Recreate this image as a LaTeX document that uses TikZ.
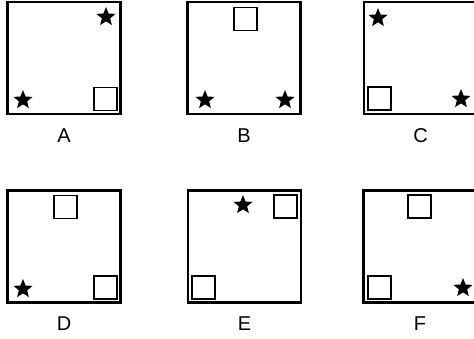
\documentclass[tikz,border=0pt]{standalone}
\usepackage{fontspec}
\setmainfont{Liberation Sans}
\usetikzlibrary{shapes.geometric, positioning}

\begin{document}
\begin{tikzpicture}[
    x=1pt, y=-1pt,
    panel/.style={rectangle, draw=black, line width=2.8pt, minimum width=113pt, minimum height=112pt, inner sep=0pt},
    starmark/.style={star, star points=5, star point ratio=2.3, fill=black, draw=none, minimum size=20pt, inner sep=0pt},
    sqmark/.style={rectangle, draw=black, line width=1.9pt, minimum size=23pt, inner sep=0pt},
    caption/.style={font=\fontsize{20}{22}\selectfont, inner sep=0pt}
]
\useasboundingbox (0,0) rectangle (474,338);

% Row 1: panels A, B, C
\node (boxA) [panel] at (64,58) {};
\node (boxB) [panel] at (244,58) {};
\node (boxC) [panel] at (420.5,58) {};

% Row 2: panels D, E, F
\node (boxD) [panel] at (64,246.5) {};
\node (boxE) [panel] at (244.5,246.5) {};
\node (boxF) [panel] at (420,246.5) {};

% Captions
\node (labA) [caption, below=13pt of boxA] {A};
\node (labB) [caption, below=13pt of boxB] {B};
\node (labC) [caption, below=13pt of boxC] {C};
\node (labD) [caption, below=13pt of boxD] {D};
\node (labE) [caption, below=13pt of boxE] {E};
\node (labF) [caption, below=13pt of boxF] {F};

% Panel A
\node (starA1) [starmark] at (106,17) {};
\node (starA2) [starmark] at (23,100) {};
\node (sqA1) [sqmark] at (105.5,99) {};

% Panel B
\node (sqB1) [sqmark] at (245.5,19) {};
\node (starB1) [starmark] at (205,100) {};
\node (starB2) [starmark] at (285,100) {};

% Panel C
\node (starC1) [starmark] at (378,18) {};
\node (sqC1) [sqmark] at (379.5,98.5) {};
\node (starC2) [starmark] at (461,99) {};

% Panel D
\node (sqD1) [sqmark] at (65.5,207) {};
\node (sqD2) [sqmark] at (105.5,287.5) {};
\node (starD1) [starmark] at (23,289) {};

% Panel E
\node (starE1) [starmark] at (243,205) {};
\node (sqE1) [sqmark] at (285.5,206.5) {};
\node (sqE2) [sqmark] at (203.5,287.5) {};

% Panel F
\node (sqF1) [sqmark] at (419.5,206.5) {};
\node (sqF2) [sqmark] at (379.5,287.5) {};
\node (starF1) [starmark] at (463,288) {};
\end{tikzpicture}
\end{document}
